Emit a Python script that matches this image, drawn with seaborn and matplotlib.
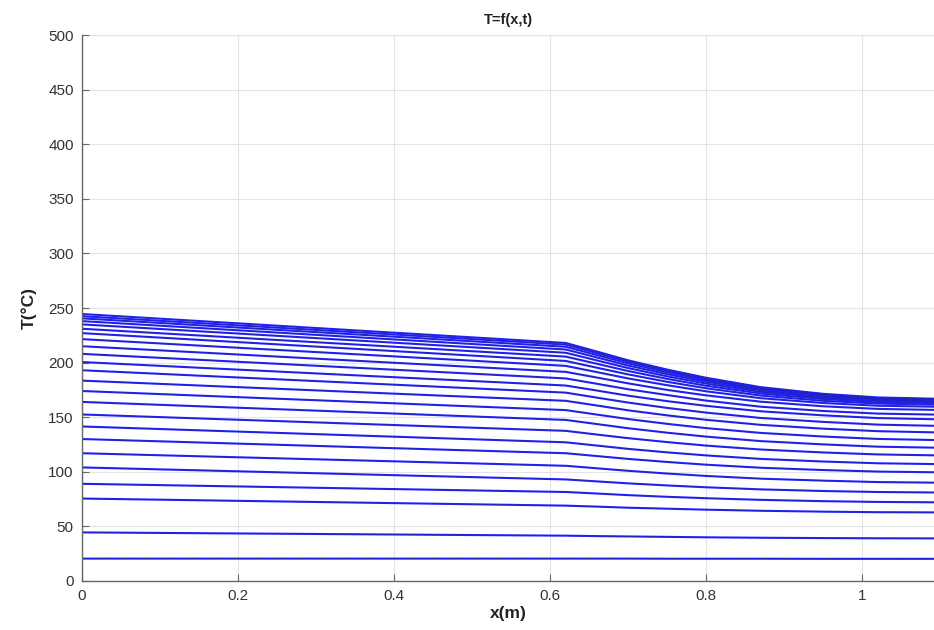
import numpy as np
import pandas as pd
import matplotlib
matplotlib.use("Agg")
import matplotlib.pyplot as plt
import seaborn as sns

# x positions (m) at which each temperature profile was read
x_pos = [0.0, 0.62, 0.66, 0.70, 0.75, 0.80, 0.87, 0.95, 1.02, 1.1]

# temperature profiles T(x) (°C), one list per time step
profiles = [
    [20.5, 20.5, 20.5, 20.5, 20.4, 20.4, 20.4, 20.3, 20.3, 20.3],
    [44.5, 41.5, 41.1, 40.8, 40.4, 40.0, 39.6, 39.3, 39.1, 39.0],
    [75.5, 69.0, 68.1, 67.1, 66.2, 65.3, 64.3, 63.5, 63.0, 62.8],
    [89.0, 81.5, 80.1, 78.6, 77.1, 75.8, 74.3, 73.1, 72.4, 72.0],
    [104.0, 93.0, 91.2, 89.4, 87.5, 85.8, 83.9, 82.4, 81.5, 81.0],
    [117.0, 105.5, 103.2, 100.9, 98.4, 96.2, 93.7, 91.9, 90.6, 90.0],
    [130.0, 117.0, 114.4, 111.8, 109.0, 106.5, 103.7, 101.6, 100.2, 99.5],
    [141.5, 127.0, 124.0, 121.0, 117.8, 115.0, 111.8, 109.4, 107.8, 107.0],
    [152.5, 137.5, 134.1, 130.8, 127.2, 124.0, 120.4, 117.7, 115.9, 115.0],
    [164.0, 147.5, 143.7, 139.9, 135.8, 132.2, 128.1, 125.1, 123.0, 122.0],
    [174.0, 156.5, 152.4, 148.3, 143.9, 140.0, 135.6, 132.3, 130.1, 129.0],
    [183.5, 165.0, 160.7, 156.3, 151.7, 147.6, 143.0, 139.5, 137.2, 136.0],
    [193.0, 172.5, 167.9, 163.4, 158.5, 154.2, 149.3, 145.7, 143.2, 142.0],
    [200.5, 179.0, 174.4, 169.7, 164.7, 160.4, 155.4, 151.7, 149.2, 148.0],
    [208.0, 185.5, 180.6, 175.6, 170.3, 165.2, 159.6, 155.7, 153.3, 152.3],
    [215.0, 191.5, 186.3, 181.0, 175.0, 170.0, 164.2, 160.0, 157.6, 156.6],
    [221.5, 197.0, 191.3, 185.5, 179.3, 173.7, 167.4, 163.0, 160.5, 159.5],
    [227.0, 201.5, 195.3, 189.2, 182.4, 176.5, 169.8, 165.0, 162.5, 161.4],
    [231.0, 205.5, 198.9, 192.3, 185.1, 178.8, 171.7, 166.6, 163.9, 162.8],
    [235.0, 209.0, 202.0, 195.0, 187.4, 180.8, 173.2, 167.8, 165.0, 163.9],
    [238.0, 212.0, 204.7, 197.3, 189.4, 182.5, 174.5, 168.9, 166.0, 164.8],
    [240.5, 214.5, 206.9, 199.3, 191.1, 183.9, 175.6, 169.8, 166.7, 165.5],
    [242.5, 216.5, 208.7, 200.9, 192.5, 185.1, 176.7, 170.7, 167.5, 166.2],
    [244.5, 218.0, 210.1, 202.1, 193.6, 186.1, 177.5, 171.4, 168.1, 166.8],
]

x_ticks = [0, 0.2, 0.4, 0.6, 0.8, 1.0]
x_tick_labels = ["0", "0.2", "0.4", "0.6", "0.8", "1"]
y_ticks = [0, 50, 100, 150, 200, 250, 300, 350, 400, 450, 500]

rows = []
for i, prof in enumerate(profiles):
    for xv, tv in zip(x_pos, prof):
        rows.append({"x": xv, "T": tv, "step": i})
df = pd.DataFrame(rows)

sns.set_theme(style="white")
plt.rcParams["font.family"] = ["Liberation Sans", "DejaVu Sans"]

fig = plt.figure(figsize=(9.34, 6.30), dpi=100)
ax = fig.add_axes([0.0878, 0.0778, 0.9122, 0.8666])

n = len(profiles)
sns.lineplot(data=df, x="x", y="T", hue="step", palette=["#2424ff"] * n,
             linewidth=1.5, legend=False, ax=ax, sort=True, estimator=None)
sns.lineplot(data=df, x="x", y="T", hue="step", palette=["#1c1c58"] * n,
             linewidth=0.6, alpha=0.75, linestyle=(0, (1, 1.2)), legend=False,
             ax=ax, sort=True, estimator=None)

ax.set_xlim(0, 1.092)
ax.set_ylim(0, 500)
ax.set_xticks(x_ticks)
ax.set_xticklabels(x_tick_labels)
ax.set_yticks(y_ticks)
ax.grid(True, color="#e4e4e4", linewidth=0.8)
ax.set_axisbelow(True)
for s in ["top", "right"]:
    ax.spines[s].set_visible(False)
for s in ["left", "bottom"]:
    ax.spines[s].set_color("#666666")
    ax.spines[s].set_linewidth(1.0)
ax.tick_params(axis="both", direction="in", length=5, width=0.8,
               colors="#666666", labelcolor="#333333", labelsize=11,
               left=True, bottom=True, pad=6)

ax.set_xlabel("x(m)", fontsize=12.5, fontweight="bold", color="#222222", labelpad=2)
ax.set_ylabel("T(°C)", fontsize=12.5, fontweight="bold", color="#222222", labelpad=8)
ax.set_title("T=f(x,t)", fontsize=10.5, fontweight="bold", color="#222222", pad=8)

fig.savefig("out.png", dpi=100)
